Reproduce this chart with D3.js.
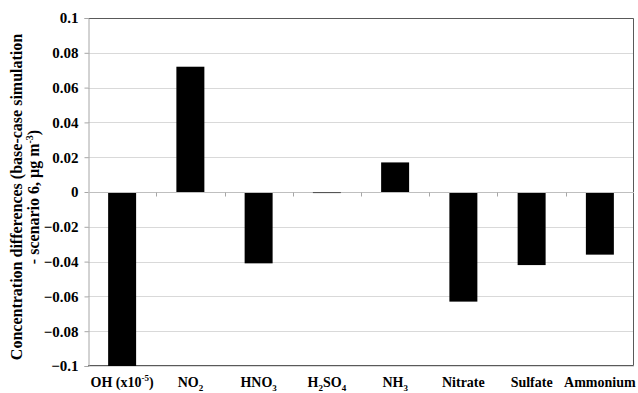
<!DOCTYPE html>
<html>
<head>
<meta charset="utf-8">
<script src="https://cdn.jsdelivr.net/npm/d3@7"></script>
<style>
  body { margin: 0; background: #fff; }
  svg text { font-family: "Liberation Serif", "Times New Roman", Times, "DejaVu Serif", serif !important; font-weight: bold; }
</style>
</head>
<body>
<div id="chart"></div>
<script>
// species along the x axis (main text + subscript/superscript parts)
var categories = ["OH", "NO2", "HNO3", "H2SO4", "NH3", "Nitrate", "Sulfate", "Ammonium"];
var labelParts = [
  [["OH (x10", ""], ["-5", "sup"], [")", ""]],
  [["NO", ""], ["2", "sub"]],
  [["HNO", ""], ["3", "sub"]],
  [["H", ""], ["2", "sub"], ["SO", ""], ["4", "sub"]],
  [["NH", ""], ["3", "sub"]],
  [["Nitrate", ""]],
  [["Sulfate", ""]],
  [["Ammonium", ""]]
];
var values = [-0.1, 0.072, -0.041, -0.0006, 0.017, -0.063, -0.042, -0.036];
var yTicks = [-0.1, -0.08, -0.06, -0.04, -0.02, 0, 0.02, 0.04, 0.06, 0.08, 0.1];

var W = 638, H = 393;
var margin = {top: 18, right: 4, bottom: 27, left: 88};
var width = W - margin.left - margin.right,
    height = H - margin.top - margin.bottom;

var svg = d3.select("#chart").append("svg")
    .attr("width", W)
    .attr("height", H);

var g = svg.append("g")
    .attr("transform", "translate(" + margin.left + "," + margin.top + ")");

var x = d3.scaleBand()
    .domain(categories)
    .range([0, width])
    .paddingInner(0.59)
    .paddingOuter(0.295);

var y = d3.scaleLinear()
    .domain([-0.1, 0.1])
    .range([height, 0]);

// gridlines
g.selectAll("line.grid")
  .data(yTicks)
  .enter().append("line")
    .attr("class", "grid")
    .attr("x1", 0).attr("x2", width)
    .attr("y1", function(d) { return Math.round(y(d)) + 0.5; })
    .attr("y2", function(d) { return Math.round(y(d)) + 0.5; })
    .attr("stroke", "#d9d9d9")
    .attr("stroke-width", 1);

// plot border (top, right, bottom)
g.append("path")
    .attr("d", "M0,0.5H" + (width - 0.5) + "V" + (height - 0.5) + "H0")
    .attr("fill", "none")
    .attr("stroke", "#595959")
    .attr("stroke-width", 1);

// y axis
var yAxis = g.append("g")
    .attr("transform", "translate(0.5,0)")
    .call(d3.axisLeft(y).tickValues(yTicks).tickSize(4).tickPadding(6)
      .tickFormat(function(d) { return d === 0 ? "0" : d3.format("")(+d.toFixed(2)); }));
yAxis.select(".domain").attr("stroke", "#a6a6a6");
yAxis.selectAll(".tick line").attr("stroke", "#a6a6a6");
yAxis.selectAll(".tick text")
    .attr("font-size", 15)
    .attr("fill", "#000");

// bars
g.selectAll("rect.bar")
  .data(values)
  .enter().append("rect")
    .attr("class", "bar")
    .attr("x", function(d, i) { return x(categories[i]); })
    .attr("width", x.bandwidth())
    .attr("y", function(d) { return y(Math.max(0, d)); })
    .attr("height", function(d) { return Math.abs(y(d) - y(0)); })
    .attr("fill", "#000");

// zero axis line with category ticks
var zeroY = Math.round(y(0)) + 0.5;
g.append("line")
    .attr("x1", 0).attr("x2", width)
    .attr("y1", zeroY).attr("y2", zeroY)
    .attr("stroke", "#bfbfbf");
g.selectAll("line.cattick")
  .data(categories.slice(1))
  .enter().append("line")
    .attr("x1", function(d) { return Math.round(x(d) - x.step() * x.paddingInner() / 2) + 0.5; })
    .attr("x2", function(d) { return Math.round(x(d) - x.step() * x.paddingInner() / 2) + 0.5; })
    .attr("y1", zeroY).attr("y2", zeroY + 4)
    .attr("stroke", "#a6a6a6");
// redraw the tiny H2SO4 bar on top of the zero line
g.append("rect")
    .attr("x", x("H2SO4"))
    .attr("width", x.bandwidth())
    .attr("y", y(0))
    .attr("height", Math.abs(y(values[3]) - y(0)))
    .attr("fill", "#555");

// x category labels
var xl = g.selectAll("text.xlab")
  .data(categories)
  .enter().append("text")
    .attr("class", "xlab")
    .attr("x", function(d) { return x(d) + x.bandwidth() / 2; })
    .attr("y", height + 21)
    .attr("text-anchor", "middle")
    .attr("font-size", 14);
xl.each(function(d, i) {
  var t = d3.select(this);
  labelParts[i].forEach(function(p, j) {
    var s = t.append("tspan").text(p[0]);
    if (p[1] === "sub") s.attr("font-size", 9).attr("dy", 4);
    else if (p[1] === "sup") s.attr("font-size", 9).attr("dy", -6);
    else if (j > 0) {
      // back to baseline after sub/sup
      var prev = labelParts[i][j - 1];
      s.attr("dy", prev[1] === "sub" ? -4 : prev[1] === "sup" ? 6 : 0);
    }
  });
});

// y axis title (two lines)
var title = svg.append("text")
    .attr("transform", "translate(22," + (margin.top + height / 2 + 5) + ") rotate(-90)")
    .attr("text-anchor", "middle")
    .attr("font-size", 16);
title.append("tspan")
    .attr("x", 0).attr("dy", 0)
    .text("Concentration differences (base-case simulation");
var t2 = title.append("tspan")
    .attr("x", 0).attr("dy", 17);
t2.append("tspan").text("- scenario 6, \u03bcg m");
t2.append("tspan").attr("font-size", 10).attr("dy", -6).text("-3");
t2.append("tspan").attr("dy", 6).text(")");
</script>
</body>
</html>
